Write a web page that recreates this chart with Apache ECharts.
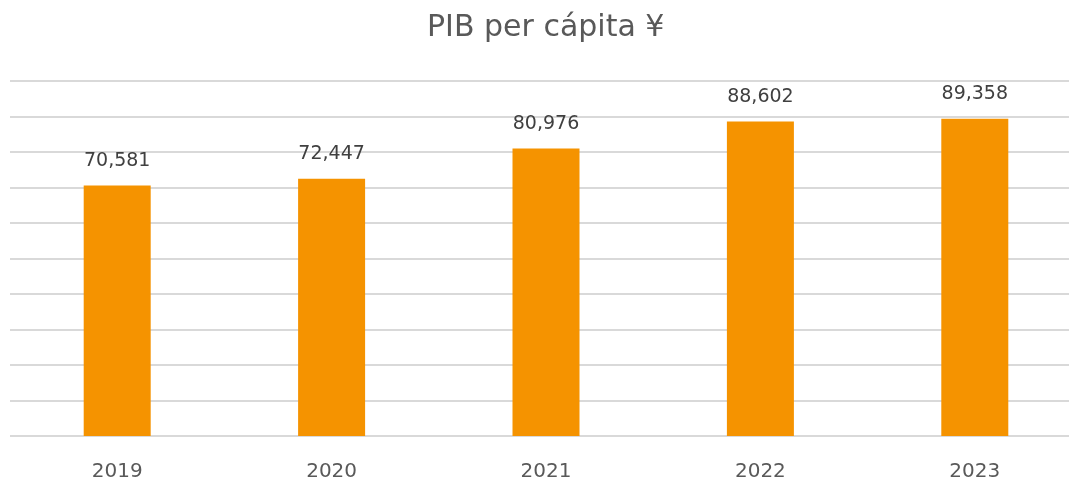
<!DOCTYPE html>
<html lang="es">
<head>
    <meta charset="UTF-8">
    <title>PIB per cápita</title>
    <script src="https://cdn.jsdelivr.net/npm/echarts@6/dist/echarts.min.js"></script>
    <style>
        html, body { margin: 0; padding: 0; background: #fff; }
        #main { width: 1069px; height: 483px; }
    </style>
</head>
<body>
<div id="main"></div>
<script>
    var years = ['2019', '2020', '2021', '2022', '2023'];
    var gdpPerCapita = [70581, 72447, 80976, 88602, 89358];
    var axisMin = 0, axisMax = 100000, axisStep = 10000;

    var myChart = echarts.init(document.getElementById('main'));
    var option = {
        animation: false,
        title: {
            text: 'PIB per cápita ¥',
            left: 422,
            top: 8,
            textStyle: {
                fontFamily: 'DejaVu Sans',
                fontSize: 30,
                fontWeight: 'normal',
                color: '#595959'
            }
        },
        grid: {
            left: 10,
            right: -13,
            top: 81,
            bottom: 47,
            outerBoundsMode: 'none',
            containLabel: false
        },
        xAxis: {
            type: 'category',
            data: years,
            axisLine: {show: false},
            axisTick: {show: false},
            axisLabel: {
                margin: 26,
                fontFamily: 'DejaVu Sans',
                fontSize: 20,
                color: '#595959'
            }
        },
        yAxis: {
            type: 'value',
            min: axisMin,
            max: axisMax,
            interval: axisStep,
            axisLabel: {show: false},
            axisLine: {show: false},
            axisTick: {show: false},
            splitLine: {
                show: true,
                lineStyle: {color: '#d9d9d9', width: 2}
            }
        },
        series: [{
            type: 'bar',
            data: gdpPerCapita,
            barWidth: 67,
            itemStyle: {color: '#f59300'},
            label: {
                show: true,
                position: 'top',
                distance: 15,
                fontFamily: 'DejaVu Sans',
                fontSize: 19,
                color: '#404040',
                formatter: function (p) {
                    return p.value.toLocaleString('en-US');
                }
            }
        }]
    };
    myChart.setOption(option);
</script>
</body>
</html>
